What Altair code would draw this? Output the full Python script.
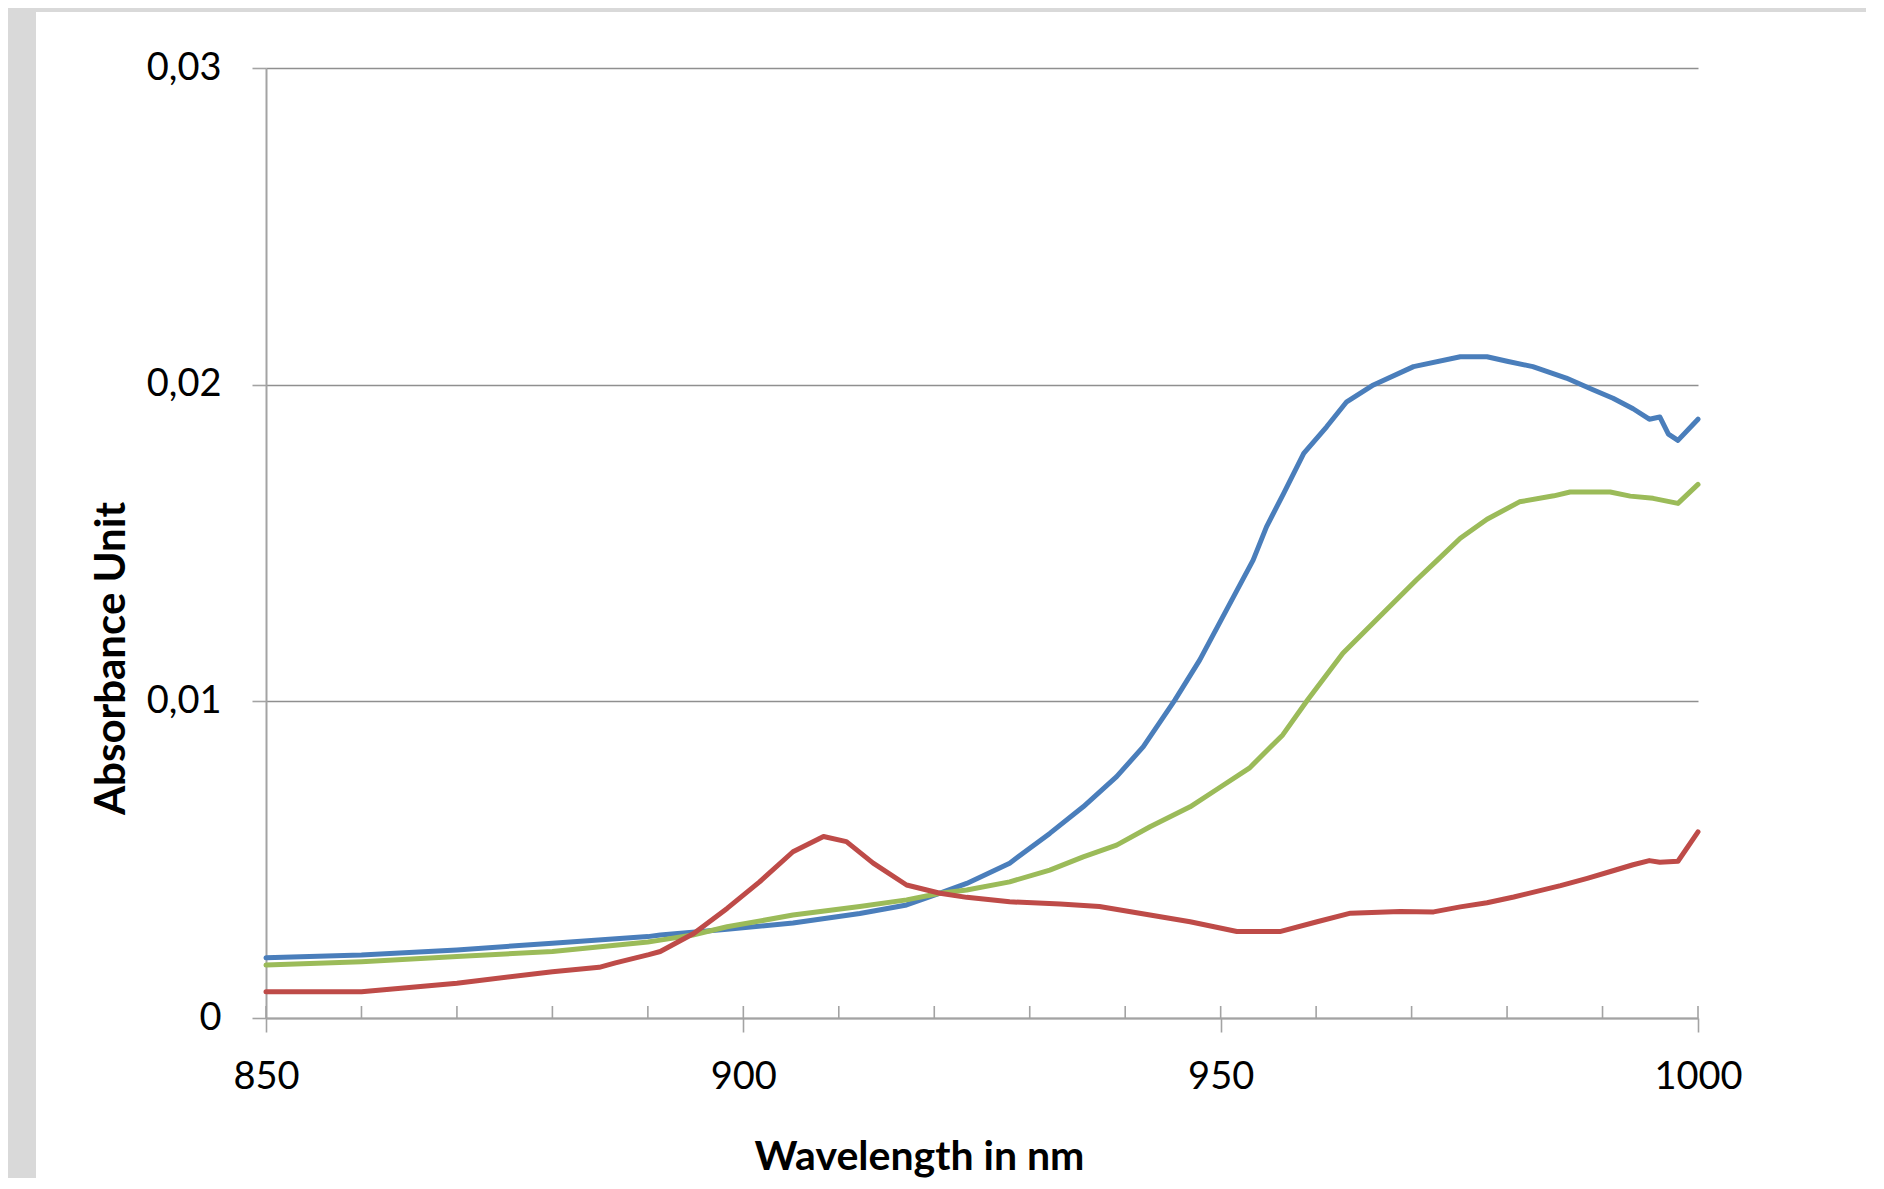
import altair as alt
import pandas as pd

# ---- data ----
wl_blue = [850, 860, 870, 880, 890, 891.3, 898.3, 905.2, 912.2, 917.1, 920.6, 923.4, 927.9,
           932.1, 935.6, 939.1, 941.9, 945.2, 947.8, 950.6, 953.4, 954.8, 956.6, 958.7, 961.1,
           963.2, 966.0, 970.2, 975.1, 977.9, 980.0, 982.7, 986.2, 989.0, 991.1, 993.2, 994.9,
           996.0, 996.9, 997.9, 1000]
ab_blue = [0.0019, 0.00199, 0.00215, 0.00236, 0.00257, 0.00262, 0.0028, 0.0030, 0.0033, 0.00357,
           0.00394, 0.00425, 0.00489, 0.00583, 0.00667, 0.00762, 0.00857, 0.01004, 0.0113, 0.01288,
           0.01446, 0.01551, 0.01657, 0.01783, 0.01867, 0.01946, 0.01999, 0.02057, 0.02088, 0.02088,
           0.02074, 0.02057, 0.02021, 0.01984, 0.01957, 0.01924, 0.01891, 0.01898, 0.01844, 0.01824,
           0.01891]

wl_green = [850, 860, 870, 880, 890, 891.3, 894.7, 898.3, 905.2, 912.2, 917.1, 920.6, 923.4,
            927.9, 932.1, 935.6, 939.1, 942.6, 946.8, 949.5, 953.0, 956.5, 959.1, 962.8, 967.0,
            970.5, 972.7, 975.1, 977.9, 981.3, 984.9, 986.6, 990.8, 992.9, 995.3, 997.9, 1000]
ab_green = [0.00167, 0.00178, 0.00194, 0.0021, 0.0024, 0.00246, 0.00262, 0.00288, 0.00325, 0.00352,
            0.00373, 0.00394, 0.00404, 0.0043, 0.00467, 0.00509, 0.00546, 0.00604, 0.00667, 0.0072,
            0.00789, 0.00894, 0.01004, 0.01152, 0.01278, 0.01383, 0.01446, 0.01515, 0.01575, 0.0163,
            0.01649, 0.01661, 0.01661, 0.01648, 0.01641, 0.01625, 0.01685]

wl_red = [850, 860, 870, 880, 884.9, 886.6, 890.1, 891.3, 894.8, 898.3, 901.7, 905.2, 908.4,
          910.8, 913.6, 917.1, 920.6, 923.4, 927.9, 933.2, 937.3, 942.6, 946.8, 951.7, 956.2,
          960.1, 963.6, 968.8, 972.3, 975.1, 977.9, 980.7, 985.6, 988.4, 991.1, 993.2, 994.9,
          996.0, 997.9, 1000]
ab_red = [0.00083, 0.00083, 0.0011, 0.00146, 0.0016, 0.00174, 0.002, 0.0021, 0.00267, 0.00346,
          0.0043, 0.00525, 0.00573, 0.00557, 0.00489, 0.0042, 0.00394, 0.00381, 0.00367, 0.0036,
          0.00352, 0.00325, 0.00304, 0.00273, 0.00273, 0.00304, 0.00331, 0.00336, 0.00335, 0.00351,
          0.00364, 0.00382, 0.00418, 0.00441, 0.00465, 0.00484, 0.00497, 0.00492, 0.00495, 0.00588]

series_names = ["A", "B", "C"]
series_colors = ["#4A7EBB", "#9BBB59", "#BE4B48"]

x_major = [850, 900, 950, 1000]
x_minor = [850, 860, 870, 880, 890, 900, 910, 920, 930, 940, 950, 960, 970, 980, 990, 1000]
y_ticks = [0, 0.01, 0.02, 0.03]

rows = []
for name, xs, ys in zip(series_names, [wl_blue, wl_green, wl_red], [ab_blue, ab_green, ab_red]):
    for i, (a, b) in enumerate(zip(xs, ys)):
        rows.append({"series": name, "wavelength": a, "absorbance": b, "i": i})
df = pd.DataFrame(rows)
minor_df = pd.DataFrame({"wavelength": x_minor})

W, H = 1432, 950
FONT = "Lato"
GRID = "#8f8f8f"
AXC = "#a3a3a3"

x_scale = alt.Scale(domain=[850, 1000], nice=False, zero=False)
y_scale = alt.Scale(domain=[0, 0.03], nice=False)

x_axis = alt.Axis(values=x_major, format="d", title="Wavelength in nm", grid=False,
                  labelFont=FONT, labelFontSize=38, labelColor="#000000",
                  labelPadding=26, labelFlush=False, labelOverlap=False,
                  tickSize=14, tickColor=AXC, tickWidth=1.6,
                  domainColor=AXC, domainWidth=2,
                  titleFont=FONT, titleFontSize=41, titleFontWeight="bold",
                  titleColor="#000000", titleX=653, titleY=139,
                  titleAlign="center", titleBaseline="middle")

y_axis = alt.Axis(values=y_ticks, title="Absorbance Unit", grid=True,
                  gridColor=GRID, gridWidth=1.4,
                  labelExpr="datum.value == 0 ? '0' : replace(format(datum.value, '.2f'), '.', ',')",
                  labelFont=FONT, labelFontSize=38, labelColor="#000000",
                  labelPadding=31, labelFlush=False, labelOverlap=False,
                  tickSize=14, tickColor=AXC, tickWidth=1.6,
                  domainColor=AXC, domainWidth=2,
                  titleFont=FONT, titleFontSize=42, titleFontWeight="bold",
                  titleColor="#000000", titleAngle=270, titleX=-155, titleY=590,
                  titleAlign="center", titleBaseline="middle")

lines = alt.Chart(df).mark_line(strokeWidth=5, strokeJoin="round", strokeCap="round").encode(
    x=alt.X("wavelength:Q", scale=x_scale, axis=x_axis),
    y=alt.Y("absorbance:Q", scale=y_scale, axis=y_axis),
    color=alt.Color("series:N", scale=alt.Scale(domain=series_names, range=series_colors),
                    legend=None),
    order=alt.Order("i:Q"),
)

minor = alt.Chart(minor_df).mark_rule(color=AXC, strokeWidth=1.6).encode(
    x=alt.X("wavelength:Q", scale=x_scale, axis=x_axis),
    y=alt.value(H),
    y2=alt.value(H - 12),
)

frame = alt.Data(values=[{"k": 1}])
top_band = alt.Chart(frame).mark_rect(color="#d9d9d9").encode(
    x=alt.value(-258), x2=alt.value(1600), y=alt.value(-60), y2=alt.value(-56)
)
left_band = alt.Chart(frame).mark_rect(color="#d9d9d9").encode(
    x=alt.value(-258), x2=alt.value(-230), y=alt.value(-60), y2=alt.value(1110)
)

chart = alt.layer(top_band, left_band, minor, lines).properties(
    width=W, height=H, padding=0, background="#ffffff"
).configure_view(stroke=None)

chart.save("out.html", embed_options={"renderer": "svg", "actions": False})
